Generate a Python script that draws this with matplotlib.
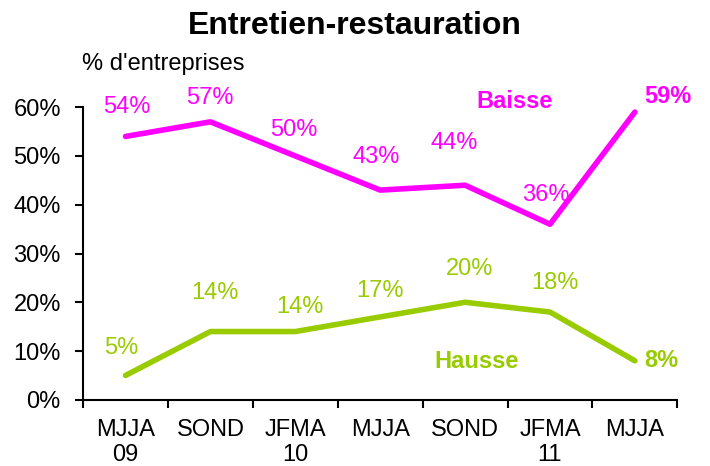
import numpy as np
import matplotlib.pyplot as plt
from matplotlib.ticker import FuncFormatter

plt.rcParams['font.family'] = ['Liberation Sans', 'DejaVu Sans']

periodes = ["MJJA\n09", "SOND", "JFMA\n10", "MJJA", "SOND", "JFMA\n11", "MJJA"]
baisse = [54, 57, 50, 43, 44, 36, 59]
hausse = [5, 14, 14, 17, 20, 18, 8]

rose = "#FF00FF"
vert = "#99CC00"

# décalage des étiquettes (pixels, par rapport au point)
dec_baisse = [(1, 29), (-1, 24), (-2, 26), (-4, 33), (-11, 42), (-4, 29), (33, 16)]
dec_hausse = [(-4, 27), (5, 39), (5, 25), (0, 26), (4, 33), (5, 29), (26, 0)]

fig = plt.figure(figsize=(7.1, 4.66), dpi=100)
ax = fig.add_axes([0.117, 0.142, 0.837, 0.628])

x = np.arange(len(periodes))
ax.plot(x, baisse, color=rose, lw=4, solid_capstyle="round")
ax.plot(x, hausse, color=vert, lw=4, solid_capstyle="round")

n = len(x)
for i in range(n):
    poids = "bold" if i == n - 1 else "normal"
    dx, dy = dec_baisse[i]
    ax.annotate(f"{baisse[i]}%", (x[i], baisse[i]), xytext=(dx * 0.72, dy * 0.72),
                textcoords="offset points", color=rose, fontsize=17,
                fontweight=poids, ha="center", va="center")
    dx, dy = dec_hausse[i]
    ax.annotate(f"{hausse[i]}%", (x[i], hausse[i]), xytext=(dx * 0.72, dy * 0.72),
                textcoords="offset points", color=vert, fontsize=17,
                fontweight=poids, ha="center", va="center")

ax.text(4.58, 61.2, "Baisse", color=rose, fontsize=17, fontweight="bold",
        ha="center", va="center")
ax.text(4.13, 7.8, "Hausse", color=vert, fontsize=17, fontweight="bold",
        ha="center", va="center")

ax.set_xlim(-0.5, n - 0.5)
ax.set_ylim(0, 60)
ax.set_yticks(range(0, 61, 10))
ax.yaxis.set_major_formatter(FuncFormatter(lambda v, p: f"{v:.0f}%"))
ax.set_xticks(np.arange(-0.5, n, 1.0))
ax.set_xticklabels([])
ax.set_xticks(x, minor=True)
ax.set_xticklabels(periodes, minor=True, fontsize=17, linespacing=1.17)
ax.tick_params(axis="x", which="minor", length=0, pad=14)
ax.tick_params(axis="x", which="major", length=6, width=1.5, direction="out")
ax.tick_params(axis="y", length=6, width=1.5, direction="out", labelsize=17, pad=10)

for s in ["top", "right"]:
    ax.spines[s].set_visible(False)
ax.spines["left"].set_linewidth(1.5)
ax.spines["bottom"].set_linewidth(1.5)

fig.text(0.5, 0.945, "Entretien-restauration", fontsize=23, fontweight="bold",
         ha="center", va="center")
fig.text(0.115, 0.862, "% d'entreprises", fontsize=17, ha="left", va="center")

fig.savefig("out.png", dpi=100)
